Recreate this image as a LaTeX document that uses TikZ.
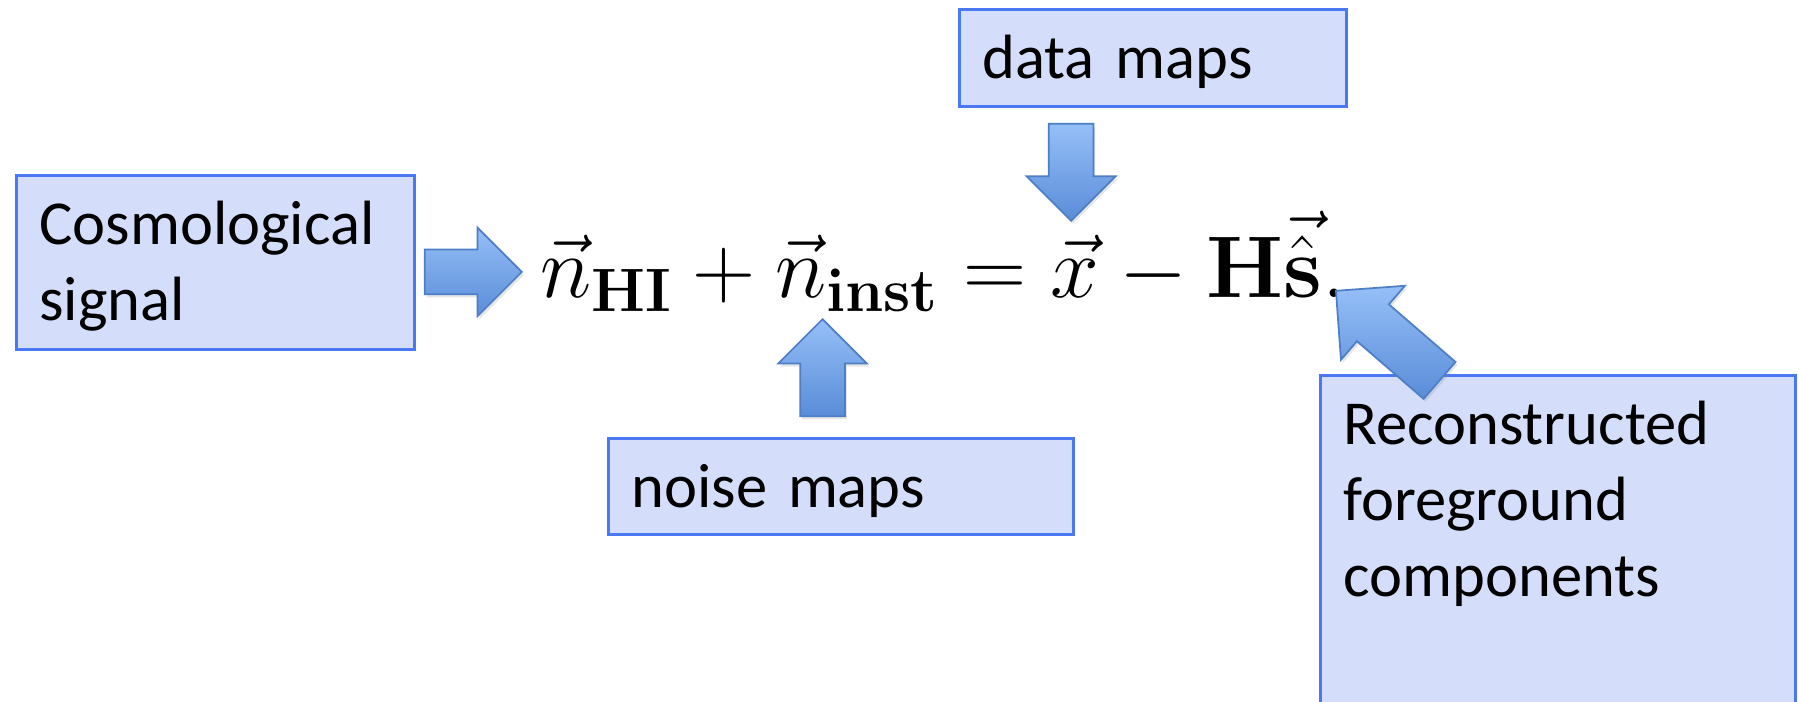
\RequirePackage{fix-cm}
\documentclass[tikz,border=0pt]{standalone}
\definecolor{BoxFill}{HTML}{D4DEFA}
\definecolor{BoxLine}{HTML}{4A78F2}
\definecolor{ArrLight}{HTML}{95BFF7}
\definecolor{ArrDark}{HTML}{5A8CD8}
\definecolor{ArrLine}{HTML}{4D7EC6}
\usepackage{amsmath}
\usepackage[no-math]{fontspec}
\newfontfamily\calibri{Carlito}
\usetikzlibrary{shapes.arrows,shadows}

\begin{document}
\begin{tikzpicture}[
  mapbox/.style={draw=BoxLine,line width=0.8pt,fill=BoxFill,anchor=north west,align=left,
    inner xsep=0.23cm,inner ysep=0pt,text height=0.69cm,
    font=\calibri\fontsize{17.8}{21.6}\selectfont},
  blockarrow/.style={single arrow,draw=ArrLine,line width=0.5pt,top color=ArrLight,bottom color=ArrDark,
    anchor=tip,inner xsep=0pt,inner ysep=0.215cm,single arrow head extend=0.22cm,minimum height=0.97cm,
    drop shadow={opacity=0.2,shadow xshift=0.02cm,shadow yshift=-0.03cm}}]
  \useasboundingbox (0,0) rectangle (17.99,7.02);
  \node[mapbox,text width=3.52cm,text depth=1.05cm] (cosmo) at (0.15,5.28) {Cosmological\\signal};
  \node[mapbox,text width=3.41cm,text depth=0.28cm] (data) at (9.58,6.94) {data maps};
  \node[mapbox,text width=4.19cm,text depth=0.27cm] (noise) at (6.07,2.65) {noise maps};
  \node[mapbox,text width=4.29cm,text depth=2.7cm] (recon) at (13.19,3.28) {Reconstructed\\foreground\\components};
  \node[inner sep=0pt,anchor=base west,font=\fontsize{24.9}{30}\selectfont] (eq) at (5.40,4.04)
    {$\vec{n}_{\mathbf{HI}}+\vec{n}_{\mathbf{inst}}=\vec{x}-\mathbf{H}\vec{\hat{\mathbf{s}}}.$};
  % block arrows, placed by their tips
  \node[blockarrow] (sigarrow) at (5.23,4.30) {};
  \node[blockarrow,rotate=-90] (dataarrow) at (10.71,4.80) {};
  \node[blockarrow,rotate=90] (noisearrow) at (8.225,3.84) {};
  \node[blockarrow,rotate=139.15,minimum height=1.37cm,inner ysep=0.235cm,
    single arrow head extend=0.245cm] (fgarrow) at (13.35,4.12) {};
\end{tikzpicture}
\end{document}
